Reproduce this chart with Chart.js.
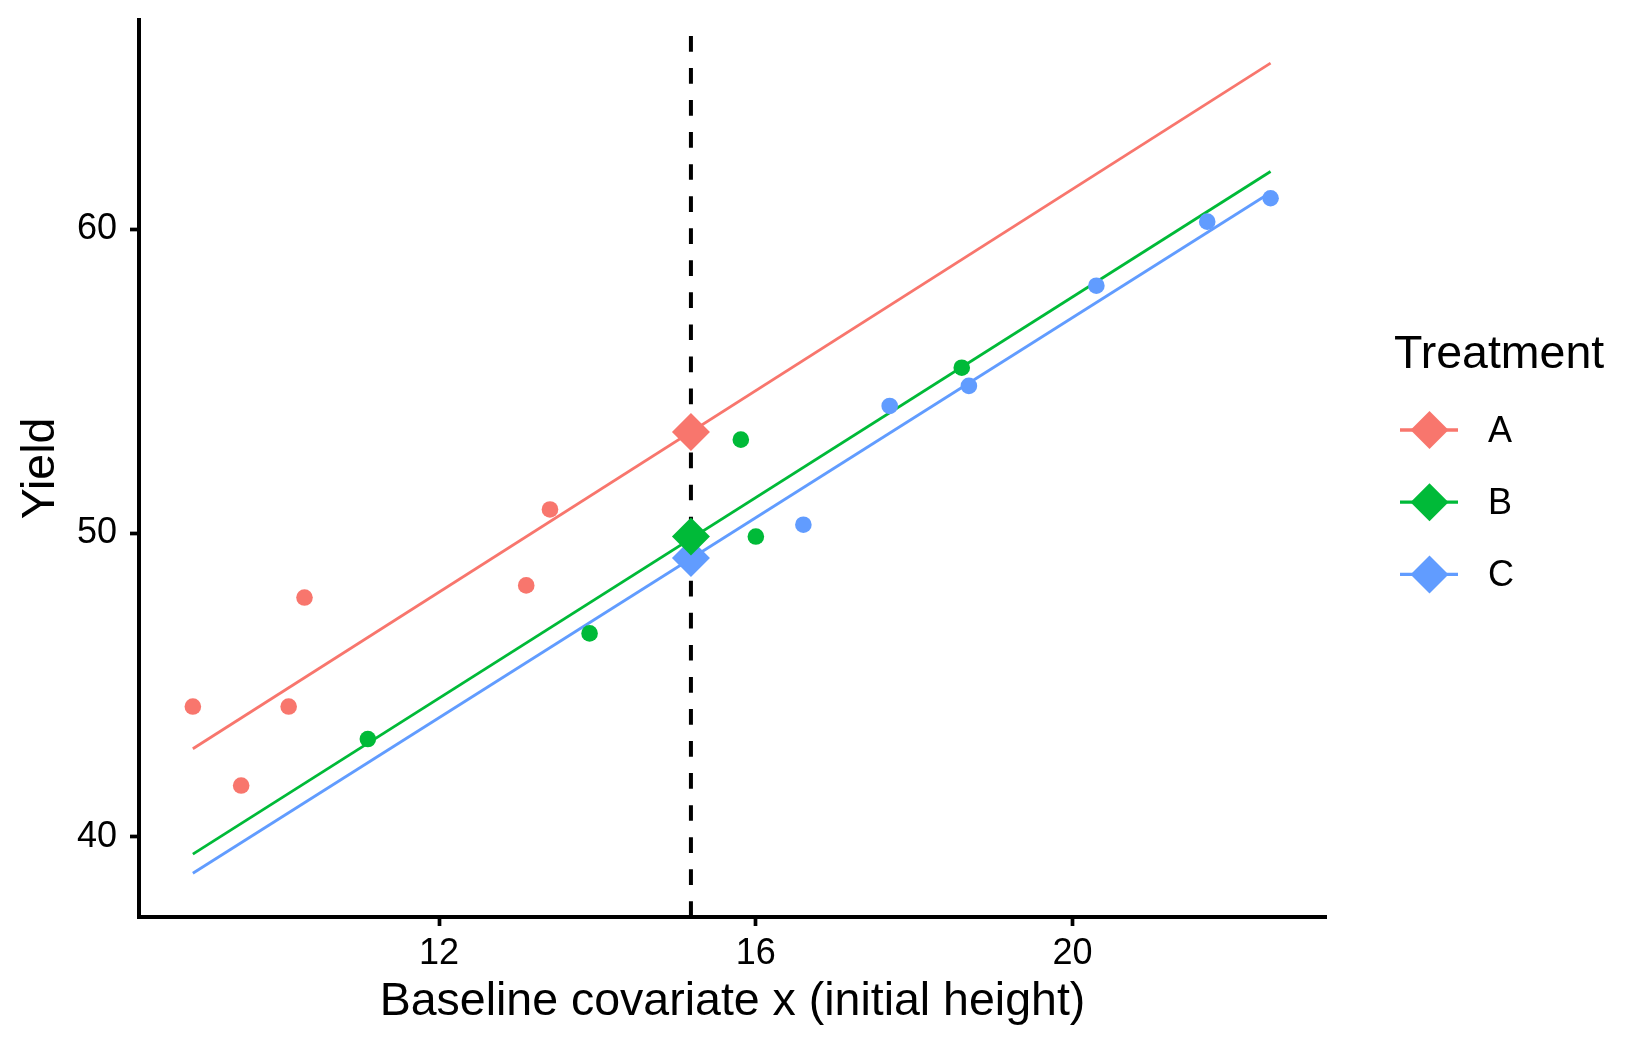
<!DOCTYPE html>
<html>
<head>
<meta charset="utf-8">
<script src="https://cdn.jsdelivr.net/npm/chart.js@4/dist/chart.umd.min.js"></script>
<style>
  html, body { margin: 0; padding: 0; background: #ffffff; }
  #wrap { width: 1650px; height: 1050px; position: relative; }
</style>
</head>
<body>
<div id="wrap"><canvas id="ancova"></canvas></div>
<script>
// Treatment groups and their colours
const groups = ['A', 'B', 'C'];
const groupColors = ['#F8766D', '#00BA38', '#619CFF'];

// Observed points (baseline x, yield)
const xA = [8.89, 9.50, 10.10, 10.30, 13.10, 13.40];
const yA = [44.29, 41.69, 44.29, 47.88, 48.28, 50.78];
const xB = [11.10, 13.90, 15.81, 16.00, 18.60];
const yB = [43.22, 46.70, 53.08, 49.89, 55.45];
const xC = [16.60, 17.69, 18.69, 20.30, 21.70, 22.50];
const yC = [50.28, 54.19, 54.85, 58.15, 60.26, 61.03];

// Fitted parallel lines, read at both ends of the x range
const fitX = [8.89, 22.50];
const fitA = [42.90, 65.48];
const fitB = [39.43, 61.91];
const fitC = [38.80, 61.22];

// Covariate mean (dashed line) and adjusted means at it
const covMean = 15.18;
const adjMeans = [53.33, 49.89, 49.18];

// Axes
const xRange = [8.21, 23.20];
const yRange = [37.36, 66.90];
const xTicks = [12, 16, 20];
const yTicks = [40, 50, 60];

const FONT = "'Liberation Sans', Arial, sans-serif";

const toPts = (xs, ys) => xs.map((x, i) => ({x: x, y: ys[i]}));
const pointSets = [toPts(xA, yA), toPts(xB, yB), toPts(xC, yC)];
const fitSets = [fitA, fitB, fitC].map(f => toPts(fitX, f));

const datasets = [];
groups.forEach((g, i) => {
  datasets.push({
    type: 'line',
    label: 'fit ' + g,
    data: fitSets[i],
    borderColor: groupColors[i],
    borderWidth: 2.8,
    pointRadius: 0,
    fill: false,
    order: 3
  });
});
// dashed line at the covariate mean, drawn bottom to top
datasets.push({
  type: 'line',
  label: 'mean x',
  data: [{x: covMean, y: yRange[0]}, {x: covMean, y: yRange[1]}],
  borderColor: '#000000',
  borderWidth: 4,
  borderDash: [15.7, 16.35],
  pointRadius: 0,
  fill: false,
  order: 2
});
groups.forEach((g, i) => {
  datasets.push({
    type: 'scatter',
    label: g,
    data: pointSets[i],
    backgroundColor: groupColors[i],
    borderWidth: 0,
    pointRadius: 8.3,
    pointHoverRadius: 8.3,
    order: 1
  });
});
groups.forEach((g, i) => {
  datasets.push({
    type: 'scatter',
    label: 'adj ' + g,
    data: [{x: covMean, y: adjMeans[i]}],
    backgroundColor: groupColors[i],
    borderWidth: 0,
    pointStyle: 'rectRot',
    pointRadius: 19,
    pointHoverRadius: 19,
    order: 0
  });
});

// legend drawn by hand: line + diamond key like ggplot
const legendPlugin = {
  id: 'treatmentLegend',
  afterDraw(chart) {
    const ctx = chart.ctx;
    ctx.save();
    ctx.fillStyle = '#000000';
    ctx.font = '46.5px ' + FONT;
    ctx.textBaseline = 'alphabetic';
    ctx.textAlign = 'left';
    ctx.fillText('Treatment', 1394, 368);
    groups.forEach((g, i) => {
      const cy = 430 + i * 72.2;
      ctx.strokeStyle = groupColors[i];
      ctx.lineWidth = 3.3;
      ctx.beginPath();
      ctx.moveTo(1400, cy);
      ctx.lineTo(1458, cy);
      ctx.stroke();
      ctx.fillStyle = groupColors[i];
      ctx.beginPath();
      ctx.moveTo(1429.5 - 19, cy);
      ctx.lineTo(1429.5, cy - 19);
      ctx.lineTo(1429.5 + 19, cy);
      ctx.lineTo(1429.5, cy + 19);
      ctx.closePath();
      ctx.fill();
      ctx.fillStyle = '#000000';
      ctx.font = '36px ' + FONT;
      ctx.textBaseline = 'middle';
      ctx.fillText(g, 1488, cy + 2);
    });
    ctx.restore();
  }
};

document.addEventListener('DOMContentLoaded', function () {
  const ctx = document.getElementById('ancova').getContext('2d');
  new Chart(ctx, {
    data: {datasets: datasets},
    options: {
      responsive: true,
      maintainAspectRatio: false,
      animation: false,
      devicePixelRatio: 1,
      layout: {padding: {top: 20, right: 324, bottom: 0, left: 0}},
      plugins: {
        legend: {display: false},
        tooltip: {enabled: false}
      },
      scales: {
        x: {
          type: 'linear',
          min: xRange[0],
          max: xRange[1],
          afterBuildTicks: s => { s.ticks = xTicks.map(v => ({value: v})); },
          afterFit: s => { s.height = 133; s.paddingLeft = 0; s.paddingRight = 0; },
          border: {display: true, color: '#000000', width: 4},
          grid: {drawOnChartArea: false, drawTicks: true, tickLength: 9, tickWidth: 3.7, tickColor: '#000000', color: '#000000'},
          ticks: {color: '#000000', padding: 6, font: {family: FONT, size: 36}},
          title: {display: true, text: 'Baseline covariate x (initial height)', color: '#000000',
                  font: {family: FONT, size: 46.5}, padding: {top: 0, bottom: 20}}
        },
        y: {
          type: 'linear',
          min: yRange[0],
          max: yRange[1],
          afterBuildTicks: s => { s.ticks = yTicks.map(v => ({value: v})); },
          afterFit: s => { s.width = 139; s.paddingTop = 0; s.paddingBottom = 0; },
          border: {display: true, color: '#000000', width: 4},
          grid: {drawOnChartArea: false, drawTicks: true, tickLength: 9, tickWidth: 3.7, tickColor: '#000000', color: '#000000'},
          ticks: {color: '#000000', padding: 13, font: {family: FONT, size: 36}},
          title: {display: true, text: 'Yield', color: '#000000',
                  font: {family: FONT, size: 46.5}, padding: {top: 13, bottom: 0}}
        }
      }
    },
    plugins: [legendPlugin]
  });
});
</script>
</body>
</html>
